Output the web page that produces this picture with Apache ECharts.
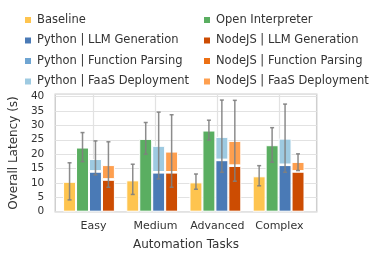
<!DOCTYPE html>
<html>
<head>
<meta charset="utf-8">
<script src="https://cdn.jsdelivr.net/npm/echarts@6/dist/echarts.min.js"></script>
<style>html,body{margin:0;padding:0;background:#fff}#c{width:388px;height:260px}</style>
</head>
<body>
<div id="c"></div>
<script>
const categories = ['Easy', 'Medium', 'Advanced', 'Complex'];
const yTicks = [0, 5, 10, 15, 20, 25, 30, 35, 40];

const baseline = [10.4, 10.9, 10.2, 12.3];
const baselineErr = [[4.1, 17.0], [6.0, 16.5], [7.8, 13.1], [9.0, 16.0]];

const openInterpreter = [22.3, 25.3, 28.2, 23.1];
const openInterpreterErr = [[17.4, 27.5], [20.0, 31.0], [24.9, 31.8], [17.2, 29.2]];

const pyLLM = [13.9, 13.6, 17.9, 16.2];
const pyParse = [0.2, 0.2, 0.2, 0.2];
const pyFaaS = [4.2, 9.1, 7.9, 9.0];
const pyErr = [[12.8, 24.6], [11.4, 34.6], [13.7, 38.8], [13.7, 37.4]];

const jsLLM = [11.1, 13.6, 15.9, 13.9];
const jsParse = [0.2, 0.2, 0.2, 0.2];
const jsFaaS = [4.9, 7.1, 8.5, 3.2];
const jsErr = [[8.5, 24.3], [8.5, 33.7], [10.6, 38.7], [14.3, 20.1]];

const colors = {
  baseline: '#fec44f', oi: '#5aae61',
  pyLLM: '#4a7ab6', pyParse: '#6fa5d2', pyFaaS: '#9ecae1',
  jsLLM: '#cc4c02', jsParse: '#ec7014', jsFaaS: '#fe9f4f'
};

const FONT = 'DejaVu Sans';
const GAP_RATIO = 0.18;
const NGROUPS = 4;
const Y_MAX = 40.8;
const X_MIN = -0.617, X_MAX = 3.603;
const FRAME = { left: 50, right: 71.3, top: 94.3, bottom: 48.3 };
const plotW = 388 - FRAME.left - FRAME.right;
const unit = plotW / (X_MAX - X_MIN);
const BAR_GRID = {
  left: FRAME.left + (-0.5 - X_MIN) * unit,
  right: FRAME.right + (X_MAX - (categories.length - 0.5)) * unit,
  top: FRAME.top, bottom: FRAME.bottom
};

function barSeries(name, data, color, stack) {
  const s = {
    name: name, type: 'bar', data: data, xAxisIndex: 1, yAxisIndex: 1,
    barGap: '0%', barCategoryGap: (GAP_RATIO * 100) + '%',
    itemStyle: { color: color, borderColor: '#ffffff', borderWidth: 1 },
    emphasis: { disabled: true }, z: 2
  };
  if (stack) s.stack = stack;
  return s;
}

const errData = [];
[baselineErr, openInterpreterErr, pyErr, jsErr].forEach((arr, g) => {
  arr.forEach((e, i) => errData.push([i, e[0], e[1], g]));
});

const legendText = { fontFamily: FONT, fontSize: 11.5, color: '#333', lineHeight: 14 };

const chart = echarts.init(document.getElementById('c'), null, { renderer: 'canvas' });
chart.setOption({
  animation: false,
  textStyle: { fontFamily: FONT },
  legend: [
    {
      orient: 'vertical', left: 18, top: 8, itemWidth: 8, itemHeight: 8, itemGap: 6.5,
      icon: 'rect', selectedMode: false, textStyle: legendText,
      data: ['Baseline', 'Python | LLM Generation', 'Python | Function Parsing', 'Python | FaaS Deployment']
    },
    {
      orient: 'vertical', left: 197, top: 8, itemWidth: 8, itemHeight: 8, itemGap: 6.5,
      icon: 'rect', selectedMode: false, textStyle: legendText,
      data: ['Open Interpreter', 'NodeJS | LLM Generation', 'NodeJS | Function Parsing', 'NodeJS | FaaS Deployment']
    }
  ],
  grid: [
    Object.assign({ show: true, borderColor: '#cfcfcf', borderWidth: 1.5, backgroundColor: '#fff' }, FRAME),
    Object.assign({ show: false }, BAR_GRID)
  ],
  xAxis: [
    {
      gridIndex: 0, type: 'value', min: X_MIN, max: X_MAX,
      axisLine: { show: false },
      axisTick: { show: false, customValues: [0, 1, 2, 3] },
      axisLabel: { customValues: [0, 1, 2, 3], formatter: v => categories[Math.round(v)] || '', fontFamily: FONT, fontSize: 11, color: '#333', margin: 9 },
      splitLine: { show: true, lineStyle: { color: '#e2e2e2', width: 1.2 } },
      name: 'Automation Tasks', nameLocation: 'middle', nameGap: 27,
      nameTextStyle: { fontFamily: FONT, fontSize: 12, color: '#333' }
    },
    {
      gridIndex: 1, type: 'category', data: categories, boundaryGap: true,
      axisLine: { show: false }, axisTick: { show: false }, axisLabel: { show: false }, splitLine: { show: false }
    }
  ],
  yAxis: [
    {
      gridIndex: 0, type: 'value', min: 0, max: Y_MAX, interval: 5,
      axisLine: { show: false }, axisTick: { show: false },
      axisLabel: { formatter: v => yTicks.indexOf(v) >= 0 ? String(v) : '', fontFamily: FONT, fontSize: 10.5, color: '#333', margin: 11 },
      splitLine: { show: true, lineStyle: { color: '#e2e2e2', width: 1.2 } },
      name: 'Overall Latency (s)', nameLocation: 'middle', nameGap: 28,
      nameTextStyle: { fontFamily: FONT, fontSize: 12, color: '#333' }
    },
    {
      gridIndex: 1, type: 'value', min: 0, max: Y_MAX,
      axisLine: { show: false }, axisTick: { show: false }, axisLabel: { show: false }, splitLine: { show: false }
    }
  ],
  series: [
    barSeries('Baseline', baseline, colors.baseline),
    barSeries('Open Interpreter', openInterpreter, colors.oi),
    barSeries('Python | LLM Generation', pyLLM, colors.pyLLM, 'py'),
    barSeries('Python | Function Parsing', pyParse, colors.pyParse, 'py'),
    barSeries('Python | FaaS Deployment', pyFaaS, colors.pyFaaS, 'py'),
    barSeries('NodeJS | LLM Generation', jsLLM, colors.jsLLM, 'js'),
    barSeries('NodeJS | Function Parsing', jsParse, colors.jsParse, 'js'),
    barSeries('NodeJS | FaaS Deployment', jsFaaS, colors.jsFaaS, 'js'),
    {
      type: 'custom', name: 'err', z: 5, silent: true, xAxisIndex: 1, yAxisIndex: 1,
      data: errData,
      encode: { x: 0, y: [1, 2] },
      renderItem: function (params, api) {
        const x = api.value(0), lo = api.value(1), hi = api.value(2), g = api.value(3);
        const band = api.size([1, 0])[0];
        const bw = band * (1 - GAP_RATIO) / NGROUPS;
        const off = (g - (NGROUPS - 1) / 2) * bw;
        const p1 = api.coord([x, lo]);
        const p2 = api.coord([x, hi]);
        const cx = p1[0] + off;
        const cap = 2;
        const st = { stroke: 'rgba(128,128,128,0.9)', lineWidth: 1.5 };
        return {
          type: 'group',
          children: [
            { type: 'line', shape: { x1: cx, y1: p1[1], x2: cx, y2: p2[1] }, style: st },
            { type: 'line', shape: { x1: cx - cap, y1: p1[1], x2: cx + cap, y2: p1[1] }, style: st },
            { type: 'line', shape: { x1: cx - cap, y1: p2[1], x2: cx + cap, y2: p2[1] }, style: st }
          ]
        };
      }
    }
  ]
});
</script>
</body>
</html>
